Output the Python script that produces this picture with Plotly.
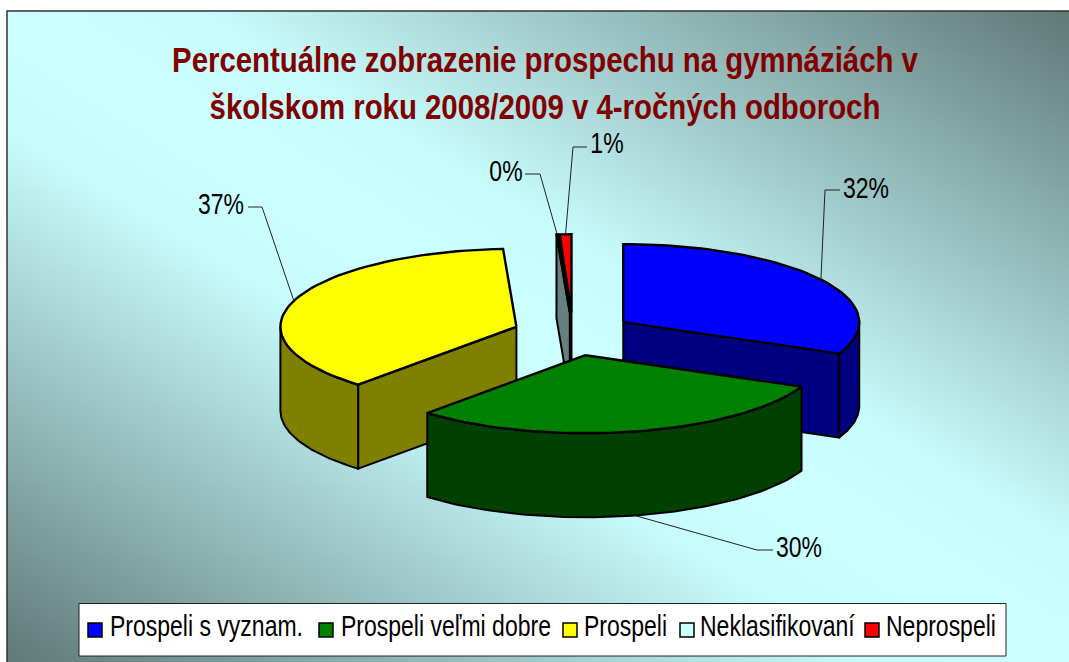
import numpy as np
import plotly.graph_objects as go

# ---- data ----
categories = ["Prospeli s vyznam.", "Prospeli veľmi dobre", "Prospeli", "Neklasifikovaní", "Neprospeli"]
values = [31.6, 30.1, 37.4, 0.1, 0.8]
top_colors = ["#0000FF", "#008000", "#FFFF00", "#CCFFFF", "#FF0000"]
wall_colors = ["#000080", "#004000", "#808000", "#668080", "#800000"]
title_text = "Percentuálne zobrazenie prospechu na gymnáziách v<br>školskom roku 2008/2009 v 4-ročných odboroch"

# ---- styling / projection of the pie ----
W, H = 1069, 662
FONT = "Liberation Sans"
CX, CY = 573.0, 334.0          # pie centre
RX, RY = 236.0, 78.0           # ellipse radii
DEPTH = 84.0                   # pie thickness
EXPLODE = (60.0, 21.7)         # explosion offset
label_pos = [(866, 191), (799, 550), (221, 207), (506, 174), (607, 146)]
elbows = [[(840, 190), (825, 190)], [(773, 550), (757, 550)], [(248, 207), (262, 207)],
          [(525, 174), (540, 174)], [(587, 147), (573, 147)]]
legend_box = ([79, 1006, 1006, 79, 79], [603.5, 603.5, 656, 656, 603.5])
legend_swatch_x = [95, 326, 570, 687, 872]
legend_text_x = [110, 341, 584, 700, 886]
LEG_Y = 630


def arc(c, t0, t1, n=60):
    t = np.radians(np.linspace(t0, t1, n))
    return c[0] + RX * np.sin(t), c[1] - RY * np.cos(t)


fig = go.Figure()

# background gradient: cell centres chosen so the image stops at the frame
nx, ny = 108, 66
dx, dy = (W - 7) / nx, (H - 11) / ny
gx = 7 + dx * (np.arange(nx) + 0.5)
gy = 11 + dy * (np.arange(ny) + 0.5)
u, v = np.meshgrid((gx - 7) / (W - 7), (gy - 11) / (H - 11))
fig.add_trace(go.Heatmap(x=gx, y=gy, z=np.abs(u - v), zmin=0, zmax=1, zsmooth="best", showscale=False,
                         hoverinfo="skip",
                         colorscale=[[0, "#CCFFFF"], [0.18, "#C8FCFC"], [1, "#607878"]]))


def poly(x, y, color, width=2.0):
    fig.add_trace(go.Scatter(x=list(x) + [x[0]], y=list(y) + [y[0]], mode="lines", fill="toself", fillcolor=color,
                             line=dict(color="black", width=width), showlegend=False, hoverinfo="skip"))


cum = np.cumsum([0] + values) / sum(values) * 360
wedges = []
for i in range(len(values)):
    t0, t1 = cum[i], cum[i + 1]
    mid = np.radians((t0 + t1) / 2)
    c = (CX + EXPLODE[0] * np.sin(mid), CY - EXPLODE[1] * np.cos(mid))
    wedges.append((i, t0, t1, mid, c))


def draw_wedge(i, t0, t1, c):
    # radial walls that face the viewer
    for t, visible in ((t0, 180 < t0 < 360), (t1, 0 < t1 < 180)):
        if visible:
            rx, ry = arc(c, t, t, 1)
            poly([c[0], rx[0], rx[0], c[0]], [c[1], ry[0], ry[0] + DEPTH, c[1] + DEPTH], wall_colors[i], 2.0)
    # outer wall on the front half
    a, b = max(t0, 90), min(t1, 270)
    if a < b:
        ax, ay = arc(c, a, b)
        poly(np.r_[ax, ax[::-1]], np.r_[ay, ay[::-1] + DEPTH], wall_colors[i], 2.0)
    # top face
    ax, ay = arc(c, t0, t1)
    poly(np.r_[c[0], ax], np.r_[c[1], ay], top_colors[i], 2.4)


# painter's order: back wedges first, the front wedge last
for idx in (2, 0, 4, 3, 1):
    i, t0, t1, mid, c = wedges[idx]
    draw_wedge(i, t0, t1, c)

# leader lines and labels
for i, t0, t1, mid, c in wedges:
    t = np.degrees(mid)
    rx, ry = arc(c, t, t, 1)
    y_end = ry[0] + (DEPTH if 90 < t < 270 else 0)
    pts = elbows[i] + [(rx[0], y_end)]
    fig.add_trace(go.Scatter(x=[p[0] for p in pts], y=[p[1] for p in pts], mode="lines",
                             line=dict(color="#222222", width=1), showlegend=False, hoverinfo="skip"))
fig.add_trace(go.Scatter(x=[p[0] for p in label_pos], y=[p[1] for p in label_pos], mode="text",
                         text=[f"{round(x)}%" for x in values], textposition="middle center",
                         textfont=dict(family=FONT, size=30, color="black"), showlegend=False, hoverinfo="skip"))

# legend box, swatches and labels
fig.add_trace(go.Scatter(x=legend_box[0], y=legend_box[1], mode="lines", fill="toself", fillcolor="white",
                         line=dict(color="#222222", width=1), showlegend=False, hoverinfo="skip"))
fig.add_trace(go.Scatter(x=legend_swatch_x, y=[LEG_Y] * 5, mode="markers",
                         marker=dict(symbol="square", size=14, color=top_colors, line=dict(color="black", width=1.5)),
                         showlegend=False, hoverinfo="skip"))
fig.add_trace(go.Scatter(x=legend_text_x, y=[LEG_Y - 1] * 5, mode="text", text=categories, textposition="middle right",
                         textfont=dict(family=FONT, size=30, color="black"), showlegend=False, hoverinfo="skip"))

# chart frame
fig.add_shape(type="rect", x0=7, y0=11, x1=W + 5, y1=H + 5, line=dict(color="#333333", width=1.5),
              fillcolor="rgba(0,0,0,0)", layer="above")

fig.update_layout(
    width=W, height=H, autosize=False, margin=dict(l=0, r=0, t=0, b=0), paper_bgcolor="white", plot_bgcolor="white",
    showlegend=False, hovermode=False,
    xaxis=dict(range=[0, W], visible=False, fixedrange=True, domain=[0, 1]),
    yaxis=dict(range=[H, 0], visible=False, fixedrange=True, domain=[0, 1]),
    title=dict(text=title_text, x=545 / W, xanchor="center", y=1 - 72 / H, yanchor="top",
               font=dict(family=FONT, size=36, color="#800000", weight="bold")),
)

# the reference uses a condensed face: zero the page margin and narrow the real text about its anchor
POST = """
document.documentElement.style.overflow = 'hidden';
document.body.style.margin = '0';
var narrow = function (el, r) {
  var ax = parseFloat(el.getAttribute('x')) || 0;
  var old = el.getAttribute('transform') || '';
  el.setAttribute('transform', 'translate(' + ax + ',0) scale(' + r + ',1) translate(' + (-ax) + ',0) ' + old);
};
document.querySelectorAll('.textpoint text').forEach(function (t) { narrow(t, 0.767); });
document.querySelectorAll('.gtitle').forEach(function (t) { narrow(t, 0.816); });
"""
fig.write_html("out.html", config={"displayModeBar": False}, post_script=POST)
